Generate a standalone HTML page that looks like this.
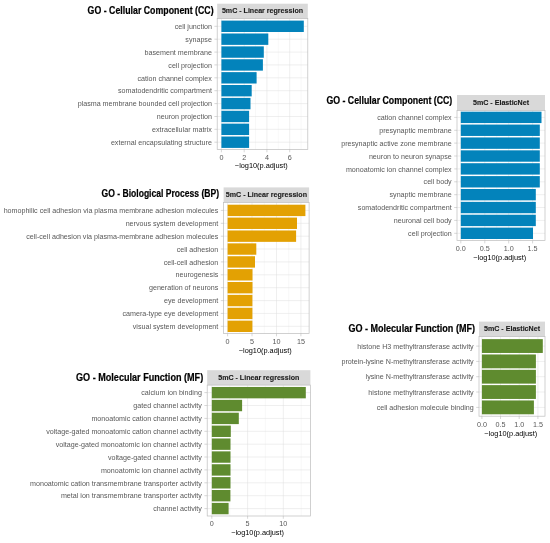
<!DOCTYPE html>
<html><head><meta charset="utf-8"><title>GO enrichment</title>
<style>
html,body{margin:0;padding:0;background:#fff}
svg{display:block}
text{font-family:"Liberation Sans", sans-serif}
.lab{font-size:7.13px;fill:#585858;text-anchor:end}
.tk{font-size:7.2px;fill:#585858;text-anchor:middle}
.at{font-size:7.35px;fill:#000;text-anchor:middle}
.st{font-size:7.5px;font-weight:700;fill:#1a1a1a;text-anchor:middle;stroke:#1a1a1a;stroke-width:.12px}
.ti{font-size:10.0px;font-weight:700;fill:#000;stroke:#000;stroke-width:.2px}
.g line{stroke:#dedede;stroke-width:.5}
.m line{stroke:#ededed;stroke-width:.4}
.t line{stroke:#b0b0b0;stroke-width:.5}
</style></head>
<body>
<svg width="550" height="543" viewBox="0 0 550 543">
<rect width="550" height="543" fill="#fff"/>
<g>
<text class="ti" x="87.6" y="13.95" textLength="126.0" lengthAdjust="spacingAndGlyphs">GO - Cellular Component (CC)</text>
<rect x="217.2" y="3.7" width="90.6" height="14.8" fill="#d9d9d9"/>
<text class="st" x="262.5" y="13.45" textLength="81.2" lengthAdjust="spacingAndGlyphs">5mC - Linear regression</text>
<g class="m"><line x1="232.8" x2="232.8" y1="18.5" y2="149.5"/><line x1="255.5" x2="255.5" y1="18.5" y2="149.5"/><line x1="278.3" x2="278.3" y1="18.5" y2="149.5"/><line x1="301.1" x2="301.1" y1="18.5" y2="149.5"/></g>
<g class="g"><line x1="221.4" x2="221.4" y1="18.5" y2="149.5"/><line x1="244.2" x2="244.2" y1="18.5" y2="149.5"/><line x1="266.9" x2="266.9" y1="18.5" y2="149.5"/><line x1="289.7" x2="289.7" y1="18.5" y2="149.5"/><line x1="217.2" x2="307.8" y1="26.3" y2="26.3"/><line x1="217.2" x2="307.8" y1="39.2" y2="39.2"/><line x1="217.2" x2="307.8" y1="52.1" y2="52.1"/><line x1="217.2" x2="307.8" y1="64.9" y2="64.9"/><line x1="217.2" x2="307.8" y1="77.8" y2="77.8"/><line x1="217.2" x2="307.8" y1="90.7" y2="90.7"/><line x1="217.2" x2="307.8" y1="103.6" y2="103.6"/><line x1="217.2" x2="307.8" y1="116.5" y2="116.5"/><line x1="217.2" x2="307.8" y1="129.3" y2="129.3"/><line x1="217.2" x2="307.8" y1="142.2" y2="142.2"/></g>
<rect x="221.4" y="20.61" width="82.4" height="11.38" fill="#0383BB"/><rect x="221.4" y="33.49" width="46.9" height="11.38" fill="#0383BB"/><rect x="221.4" y="46.37" width="42.4" height="11.38" fill="#0383BB"/><rect x="221.4" y="59.25" width="41.5" height="11.38" fill="#0383BB"/><rect x="221.4" y="72.13" width="35.2" height="11.38" fill="#0383BB"/><rect x="221.4" y="85.01" width="30.3" height="11.38" fill="#0383BB"/><rect x="221.4" y="97.89" width="29.1" height="11.38" fill="#0383BB"/><rect x="221.4" y="110.77" width="27.7" height="11.38" fill="#0383BB"/><rect x="221.4" y="123.65" width="27.7" height="11.38" fill="#0383BB"/><rect x="221.4" y="136.53" width="27.7" height="11.38" fill="#0383BB"/>
<rect x="217.2" y="18.5" width="90.6" height="131.0" fill="none" stroke="#bdbdbd" stroke-width=".7"/>
<g class="t"><line x1="214.4" x2="217.2" y1="26.3" y2="26.3"/><line x1="214.4" x2="217.2" y1="39.2" y2="39.2"/><line x1="214.4" x2="217.2" y1="52.1" y2="52.1"/><line x1="214.4" x2="217.2" y1="64.9" y2="64.9"/><line x1="214.4" x2="217.2" y1="77.8" y2="77.8"/><line x1="214.4" x2="217.2" y1="90.7" y2="90.7"/><line x1="214.4" x2="217.2" y1="103.6" y2="103.6"/><line x1="214.4" x2="217.2" y1="116.5" y2="116.5"/><line x1="214.4" x2="217.2" y1="129.3" y2="129.3"/><line x1="214.4" x2="217.2" y1="142.2" y2="142.2"/><line x1="221.4" x2="221.4" y1="149.5" y2="152.3"/><line x1="244.2" x2="244.2" y1="149.5" y2="152.3"/><line x1="266.9" x2="266.9" y1="149.5" y2="152.3"/><line x1="289.7" x2="289.7" y1="149.5" y2="152.3"/></g>
<text class="lab" x="211.9" y="28.9">cell junction</text>
<text class="lab" x="211.9" y="41.8">synapse</text>
<text class="lab" x="211.9" y="54.7">basement membrane</text>
<text class="lab" x="211.9" y="67.6">cell projection</text>
<text class="lab" x="211.9" y="80.5">cation channel complex</text>
<text class="lab" x="211.9" y="93.4">somatodendritic compartment</text>
<text class="lab" x="211.9" y="106.2">plasma membrane bounded cell projection</text>
<text class="lab" x="211.9" y="119.1">neuron projection</text>
<text class="lab" x="211.9" y="132.0">extracellular matrix</text>
<text class="lab" x="211.9" y="144.9">external encapsulating structure</text>
<text class="tk" x="221.4" y="159.6">0</text><text class="tk" x="244.2" y="159.6">2</text><text class="tk" x="266.9" y="159.6">4</text><text class="tk" x="289.7" y="159.6">6</text>
<text class="at" x="261.3" y="168.4">−log10(p.adjust)</text>
</g>
<g>
<text class="ti" x="101.6" y="197.45" textLength="117.4" lengthAdjust="spacingAndGlyphs">GO - Biological Process (BP)</text>
<rect x="223.6" y="187.4" width="85.5" height="15.0" fill="#d9d9d9"/>
<text class="st" x="266.4" y="197.3" textLength="81.2" lengthAdjust="spacingAndGlyphs">5mC - Linear regression</text>
<g class="m"><line x1="239.8" x2="239.8" y1="202.4" y2="333.5"/><line x1="264.3" x2="264.3" y1="202.4" y2="333.5"/><line x1="288.7" x2="288.7" y1="202.4" y2="333.5"/></g>
<g class="g"><line x1="227.6" x2="227.6" y1="202.4" y2="333.5"/><line x1="252.0" x2="252.0" y1="202.4" y2="333.5"/><line x1="276.5" x2="276.5" y1="202.4" y2="333.5"/><line x1="300.9" x2="300.9" y1="202.4" y2="333.5"/><line x1="223.6" x2="309.1" y1="210.4" y2="210.4"/><line x1="223.6" x2="309.1" y1="223.3" y2="223.3"/><line x1="223.6" x2="309.1" y1="236.2" y2="236.2"/><line x1="223.6" x2="309.1" y1="249.0" y2="249.0"/><line x1="223.6" x2="309.1" y1="261.9" y2="261.9"/><line x1="223.6" x2="309.1" y1="274.8" y2="274.8"/><line x1="223.6" x2="309.1" y1="287.7" y2="287.7"/><line x1="223.6" x2="309.1" y1="300.6" y2="300.6"/><line x1="223.6" x2="309.1" y1="313.4" y2="313.4"/><line x1="223.6" x2="309.1" y1="326.3" y2="326.3"/></g>
<rect x="227.6" y="204.71" width="77.8" height="11.38" fill="#E3A103"/><rect x="227.6" y="217.59" width="69.4" height="11.38" fill="#E3A103"/><rect x="227.6" y="230.47" width="68.5" height="11.38" fill="#E3A103"/><rect x="227.6" y="243.35" width="28.7" height="11.38" fill="#E3A103"/><rect x="227.6" y="256.23" width="27.4" height="11.38" fill="#E3A103"/><rect x="227.6" y="269.11" width="24.9" height="11.38" fill="#E3A103"/><rect x="227.6" y="281.99" width="24.9" height="11.38" fill="#E3A103"/><rect x="227.6" y="294.87" width="24.8" height="11.38" fill="#E3A103"/><rect x="227.6" y="307.75" width="24.8" height="11.38" fill="#E3A103"/><rect x="227.6" y="320.63" width="24.8" height="11.38" fill="#E3A103"/>
<rect x="223.6" y="202.4" width="85.5" height="131.1" fill="none" stroke="#bdbdbd" stroke-width=".7"/>
<g class="t"><line x1="220.8" x2="223.6" y1="210.4" y2="210.4"/><line x1="220.8" x2="223.6" y1="223.3" y2="223.3"/><line x1="220.8" x2="223.6" y1="236.2" y2="236.2"/><line x1="220.8" x2="223.6" y1="249.0" y2="249.0"/><line x1="220.8" x2="223.6" y1="261.9" y2="261.9"/><line x1="220.8" x2="223.6" y1="274.8" y2="274.8"/><line x1="220.8" x2="223.6" y1="287.7" y2="287.7"/><line x1="220.8" x2="223.6" y1="300.6" y2="300.6"/><line x1="220.8" x2="223.6" y1="313.4" y2="313.4"/><line x1="220.8" x2="223.6" y1="326.3" y2="326.3"/><line x1="227.6" x2="227.6" y1="333.5" y2="336.3"/><line x1="252.0" x2="252.0" y1="333.5" y2="336.3"/><line x1="276.5" x2="276.5" y1="333.5" y2="336.3"/><line x1="300.9" x2="300.9" y1="333.5" y2="336.3"/></g>
<text class="lab" x="218.3" y="213.1">homophilic cell adhesion via plasma membrane adhesion molecules</text>
<text class="lab" x="218.3" y="225.9">nervous system development</text>
<text class="lab" x="218.3" y="238.8">cell-cell adhesion via plasma-membrane adhesion molecules</text>
<text class="lab" x="218.3" y="251.7">cell adhesion</text>
<text class="lab" x="218.3" y="264.6">cell-cell adhesion</text>
<text class="lab" x="218.3" y="277.4">neurogenesis</text>
<text class="lab" x="218.3" y="290.3">generation of neurons</text>
<text class="lab" x="218.3" y="303.2">eye development</text>
<text class="lab" x="218.3" y="316.1">camera-type eye development</text>
<text class="lab" x="218.3" y="329.0">visual system development</text>
<text class="tk" x="227.6" y="343.9">0</text><text class="tk" x="252.0" y="343.9">5</text><text class="tk" x="276.5" y="343.9">10</text><text class="tk" x="300.9" y="343.9">15</text>
<text class="at" x="265.2" y="352.8">−log10(p.adjust)</text>
</g>
<g>
<text class="ti" x="76.0" y="380.60" textLength="127.2" lengthAdjust="spacingAndGlyphs">GO - Molecular Function (MF)</text>
<rect x="207.2" y="370.2" width="103.2" height="14.9" fill="#d9d9d9"/>
<text class="st" x="258.8" y="380.1" textLength="81.2" lengthAdjust="spacingAndGlyphs">5mC - Linear regression</text>
<g class="m"><line x1="229.7" x2="229.7" y1="385.1" y2="516.0"/><line x1="265.4" x2="265.4" y1="385.1" y2="516.0"/><line x1="301.2" x2="301.2" y1="385.1" y2="516.0"/></g>
<g class="g"><line x1="211.8" x2="211.8" y1="385.1" y2="516.0"/><line x1="247.6" x2="247.6" y1="385.1" y2="516.0"/><line x1="283.3" x2="283.3" y1="385.1" y2="516.0"/><line x1="207.2" x2="310.4" y1="392.6" y2="392.6"/><line x1="207.2" x2="310.4" y1="405.5" y2="405.5"/><line x1="207.2" x2="310.4" y1="418.4" y2="418.4"/><line x1="207.2" x2="310.4" y1="431.3" y2="431.3"/><line x1="207.2" x2="310.4" y1="444.2" y2="444.2"/><line x1="207.2" x2="310.4" y1="457.0" y2="457.0"/><line x1="207.2" x2="310.4" y1="469.9" y2="469.9"/><line x1="207.2" x2="310.4" y1="482.8" y2="482.8"/><line x1="207.2" x2="310.4" y1="495.7" y2="495.7"/><line x1="207.2" x2="310.4" y1="508.6" y2="508.6"/></g>
<rect x="211.8" y="386.96" width="94.0" height="11.38" fill="#5F8B2F"/><rect x="211.8" y="399.84" width="30.3" height="11.38" fill="#5F8B2F"/><rect x="211.8" y="412.72" width="27.0" height="11.38" fill="#5F8B2F"/><rect x="211.8" y="425.60" width="19.0" height="11.38" fill="#5F8B2F"/><rect x="211.8" y="438.48" width="18.7" height="11.38" fill="#5F8B2F"/><rect x="211.8" y="451.36" width="18.7" height="11.38" fill="#5F8B2F"/><rect x="211.8" y="464.24" width="18.7" height="11.38" fill="#5F8B2F"/><rect x="211.8" y="477.12" width="18.7" height="11.38" fill="#5F8B2F"/><rect x="211.8" y="490.00" width="18.6" height="11.38" fill="#5F8B2F"/><rect x="211.8" y="502.88" width="16.8" height="11.38" fill="#5F8B2F"/>
<rect x="207.2" y="385.1" width="103.2" height="130.9" fill="none" stroke="#bdbdbd" stroke-width=".7"/>
<g class="t"><line x1="204.4" x2="207.2" y1="392.6" y2="392.6"/><line x1="204.4" x2="207.2" y1="405.5" y2="405.5"/><line x1="204.4" x2="207.2" y1="418.4" y2="418.4"/><line x1="204.4" x2="207.2" y1="431.3" y2="431.3"/><line x1="204.4" x2="207.2" y1="444.2" y2="444.2"/><line x1="204.4" x2="207.2" y1="457.0" y2="457.0"/><line x1="204.4" x2="207.2" y1="469.9" y2="469.9"/><line x1="204.4" x2="207.2" y1="482.8" y2="482.8"/><line x1="204.4" x2="207.2" y1="495.7" y2="495.7"/><line x1="204.4" x2="207.2" y1="508.6" y2="508.6"/><line x1="211.8" x2="211.8" y1="516.0" y2="518.8"/><line x1="247.6" x2="247.6" y1="516.0" y2="518.8"/><line x1="283.3" x2="283.3" y1="516.0" y2="518.8"/></g>
<text class="lab" x="201.9" y="395.3">calcium ion binding</text>
<text class="lab" x="201.9" y="408.2">gated channel activity</text>
<text class="lab" x="201.9" y="421.1">monoatomic cation channel activity</text>
<text class="lab" x="201.9" y="433.9">voltage-gated monoatomic cation channel activity</text>
<text class="lab" x="201.9" y="446.8">voltage-gated monoatomic ion channel activity</text>
<text class="lab" x="201.9" y="459.7">voltage-gated channel activity</text>
<text class="lab" x="201.9" y="472.6">monoatomic ion channel activity</text>
<text class="lab" x="201.9" y="485.5">monoatomic cation transmembrane transporter activity</text>
<text class="lab" x="201.9" y="498.3">metal ion transmembrane transporter activity</text>
<text class="lab" x="201.9" y="511.2">channel activity</text>
<text class="tk" x="211.8" y="526.3">0</text><text class="tk" x="247.6" y="526.3">5</text><text class="tk" x="283.3" y="526.3">10</text>
<text class="at" x="257.6" y="535.4">−log10(p.adjust)</text>
</g>
<g>
<text class="ti" x="326.4" y="103.75" textLength="125.9" lengthAdjust="spacingAndGlyphs">GO - Cellular Component (CC)</text>
<rect x="457.0" y="95.0" width="88.0" height="15.4" fill="#d9d9d9"/>
<text class="st" x="501.0" y="104.9" textLength="56.0" lengthAdjust="spacingAndGlyphs">5mC - ElasticNet</text>
<g class="m"><line x1="472.8" x2="472.8" y1="110.4" y2="240.6"/><line x1="496.7" x2="496.7" y1="110.4" y2="240.6"/><line x1="520.7" x2="520.7" y1="110.4" y2="240.6"/></g>
<g class="g"><line x1="460.8" x2="460.8" y1="110.4" y2="240.6"/><line x1="484.8" x2="484.8" y1="110.4" y2="240.6"/><line x1="508.7" x2="508.7" y1="110.4" y2="240.6"/><line x1="532.6" x2="532.6" y1="110.4" y2="240.6"/><line x1="457.0" x2="545.0" y1="117.4" y2="117.4"/><line x1="457.0" x2="545.0" y1="130.3" y2="130.3"/><line x1="457.0" x2="545.0" y1="143.1" y2="143.1"/><line x1="457.0" x2="545.0" y1="156.0" y2="156.0"/><line x1="457.0" x2="545.0" y1="168.9" y2="168.9"/><line x1="457.0" x2="545.0" y1="181.8" y2="181.8"/><line x1="457.0" x2="545.0" y1="194.7" y2="194.7"/><line x1="457.0" x2="545.0" y1="207.5" y2="207.5"/><line x1="457.0" x2="545.0" y1="220.4" y2="220.4"/><line x1="457.0" x2="545.0" y1="233.3" y2="233.3"/></g>
<rect x="460.8" y="111.69" width="80.7" height="11.38" fill="#0383BB"/><rect x="460.8" y="124.57" width="79.0" height="11.38" fill="#0383BB"/><rect x="460.8" y="137.45" width="79.0" height="11.38" fill="#0383BB"/><rect x="460.8" y="150.33" width="79.0" height="11.38" fill="#0383BB"/><rect x="460.8" y="163.21" width="79.0" height="11.38" fill="#0383BB"/><rect x="460.8" y="176.09" width="79.0" height="11.38" fill="#0383BB"/><rect x="460.8" y="188.97" width="75.0" height="11.38" fill="#0383BB"/><rect x="460.8" y="201.85" width="75.0" height="11.38" fill="#0383BB"/><rect x="460.8" y="214.73" width="75.0" height="11.38" fill="#0383BB"/><rect x="460.8" y="227.61" width="72.2" height="11.38" fill="#0383BB"/>
<rect x="457.0" y="110.4" width="88.0" height="130.2" fill="none" stroke="#bdbdbd" stroke-width=".7"/>
<g class="t"><line x1="454.2" x2="457.0" y1="117.4" y2="117.4"/><line x1="454.2" x2="457.0" y1="130.3" y2="130.3"/><line x1="454.2" x2="457.0" y1="143.1" y2="143.1"/><line x1="454.2" x2="457.0" y1="156.0" y2="156.0"/><line x1="454.2" x2="457.0" y1="168.9" y2="168.9"/><line x1="454.2" x2="457.0" y1="181.8" y2="181.8"/><line x1="454.2" x2="457.0" y1="194.7" y2="194.7"/><line x1="454.2" x2="457.0" y1="207.5" y2="207.5"/><line x1="454.2" x2="457.0" y1="220.4" y2="220.4"/><line x1="454.2" x2="457.0" y1="233.3" y2="233.3"/><line x1="460.8" x2="460.8" y1="240.6" y2="243.4"/><line x1="484.8" x2="484.8" y1="240.6" y2="243.4"/><line x1="508.7" x2="508.7" y1="240.6" y2="243.4"/><line x1="532.6" x2="532.6" y1="240.6" y2="243.4"/></g>
<text class="lab" x="451.7" y="120.0">cation channel complex</text>
<text class="lab" x="451.7" y="132.9">presynaptic membrane</text>
<text class="lab" x="451.7" y="145.8">presynaptic active zone membrane</text>
<text class="lab" x="451.7" y="158.7">neuron to neuron synapse</text>
<text class="lab" x="451.7" y="171.6">monoatomic ion channel complex</text>
<text class="lab" x="451.7" y="184.4">cell body</text>
<text class="lab" x="451.7" y="197.3">synaptic membrane</text>
<text class="lab" x="451.7" y="210.2">somatodendritic compartment</text>
<text class="lab" x="451.7" y="223.1">neuronal cell body</text>
<text class="lab" x="451.7" y="236.0">cell projection</text>
<text class="tk" x="460.8" y="250.7">0.0</text><text class="tk" x="484.8" y="250.7">0.5</text><text class="tk" x="508.7" y="250.7">1.0</text><text class="tk" x="532.6" y="250.7">1.5</text>
<text class="at" x="499.8" y="260.0">−log10(p.adjust)</text>
</g>
<g>
<text class="ti" x="348.4" y="332.20" textLength="126.6" lengthAdjust="spacingAndGlyphs">GO - Molecular Function (MF)</text>
<rect x="479.0" y="321.6" width="66.0" height="15.0" fill="#d9d9d9"/>
<text class="st" x="512.0" y="331.4" textLength="56.0" lengthAdjust="spacingAndGlyphs">5mC - ElasticNet</text>
<g class="m"><line x1="491.2" x2="491.2" y1="336.6" y2="416.2"/><line x1="509.9" x2="509.9" y1="336.6" y2="416.2"/><line x1="528.5" x2="528.5" y1="336.6" y2="416.2"/></g>
<g class="g"><line x1="481.9" x2="481.9" y1="336.6" y2="416.2"/><line x1="500.5" x2="500.5" y1="336.6" y2="416.2"/><line x1="519.2" x2="519.2" y1="336.6" y2="416.2"/><line x1="537.9" x2="537.9" y1="336.6" y2="416.2"/><line x1="479.0" x2="545.0" y1="346.1" y2="346.1"/><line x1="479.0" x2="545.0" y1="361.4" y2="361.4"/><line x1="479.0" x2="545.0" y1="376.7" y2="376.7"/><line x1="479.0" x2="545.0" y1="392.0" y2="392.0"/><line x1="479.0" x2="545.0" y1="407.4" y2="407.4"/></g>
<rect x="481.9" y="339.13" width="60.9" height="13.83" fill="#5F8B2F"/><rect x="481.9" y="354.46" width="54.0" height="13.83" fill="#5F8B2F"/><rect x="481.9" y="369.80" width="54.0" height="13.83" fill="#5F8B2F"/><rect x="481.9" y="385.12" width="54.0" height="13.83" fill="#5F8B2F"/><rect x="481.9" y="400.45" width="52.0" height="13.83" fill="#5F8B2F"/>
<rect x="479.0" y="336.6" width="66.0" height="79.6" fill="none" stroke="#bdbdbd" stroke-width=".7"/>
<g class="t"><line x1="476.2" x2="479.0" y1="346.1" y2="346.1"/><line x1="476.2" x2="479.0" y1="361.4" y2="361.4"/><line x1="476.2" x2="479.0" y1="376.7" y2="376.7"/><line x1="476.2" x2="479.0" y1="392.0" y2="392.0"/><line x1="476.2" x2="479.0" y1="407.4" y2="407.4"/><line x1="481.9" x2="481.9" y1="416.2" y2="419.0"/><line x1="500.5" x2="500.5" y1="416.2" y2="419.0"/><line x1="519.2" x2="519.2" y1="416.2" y2="419.0"/><line x1="537.9" x2="537.9" y1="416.2" y2="419.0"/></g>
<text class="lab" x="473.7" y="348.7">histone H3 methyltransferase activity</text>
<text class="lab" x="473.7" y="364.0">protein-lysine N-methyltransferase activity</text>
<text class="lab" x="473.7" y="379.4">lysine N-methyltransferase activity</text>
<text class="lab" x="473.7" y="394.7">histone methyltransferase activity</text>
<text class="lab" x="473.7" y="410.0">cell adhesion molecule binding</text>
<text class="tk" x="481.9" y="426.7">0.0</text><text class="tk" x="500.5" y="426.7">0.5</text><text class="tk" x="519.2" y="426.7">1.0</text><text class="tk" x="537.9" y="426.7">1.5</text>
<text class="at" x="510.8" y="436.3">−log10(p.adjust)</text>
</g>
</svg>
</body></html>
